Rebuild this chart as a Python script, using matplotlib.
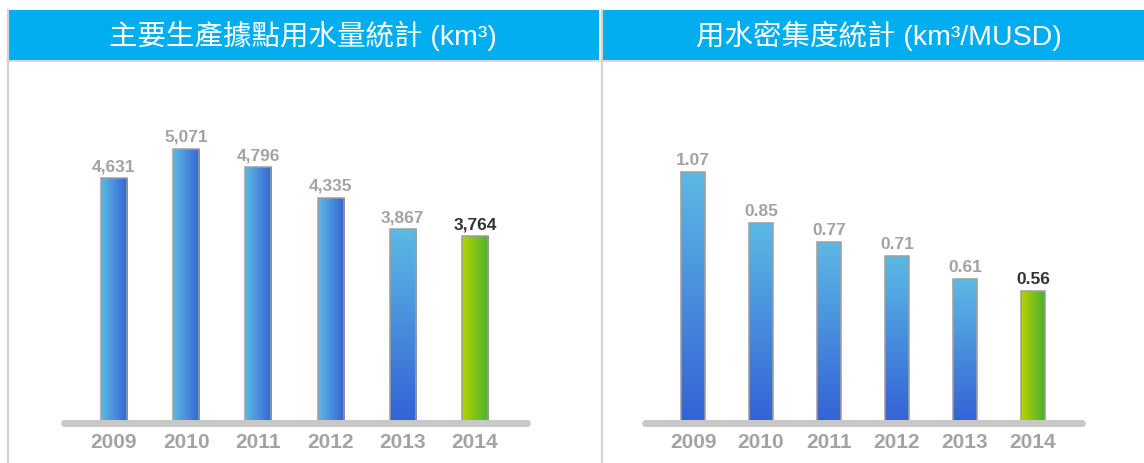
import numpy as np
import matplotlib.pyplot as plt
from matplotlib.colors import LinearSegmentedColormap
from matplotlib.patches import Rectangle

# data
years = ['2009', '2010', '2011', '2012', '2013', '2014']
water_use = [4631, 5071, 4796, 4335, 3867, 3764]          # km3
water_intensity = [1.07, 0.85, 0.77, 0.71, 0.61, 0.56]    # km3/MUSD
water_use_labels = ['4,631', '5,071', '4,796', '4,335', '3,867', '3,764']
intensity_labels = ['1.07', '0.85', '0.77', '0.71', '0.61', '0.56']
title_left = '主要生產據點用水量統計 (km³)'
title_right = '用水密集度統計 (km³/MUSD)'

W, H = 1144, 463
HEADER = '#00AEEF'
BORDER = '#D2D2D2'
GREY_TXT = '#A3A3A3'
blue_cm = LinearSegmentedColormap.from_list('b', ['#5CB9E4', '#3463D6'])
green_cm = LinearSegmentedColormap.from_list('g', ['#B6D400', '#4BB031'])
FONT = ['Liberation Sans', 'Noto Sans CJK TC']

fig = plt.figure(figsize=(W / 100, H / 100), dpi=100)

# background layer in pixel coordinates
bg = fig.add_axes([0, 0, 1, 1])
bg.set_xlim(0, W)
bg.set_ylim(H, 0)
bg.axis('off')
for x0, x1, title, dx in [(7, 599, title_left, 0), (601, W, title_right, 6)]:
    bg.add_patch(Rectangle((x0, 10), x1 - x0, 50, color=HEADER, lw=0))
    bg.plot([x0 + 0.5, x0 + 0.5], [10, H], color=BORDER, lw=1.6)
    bg.plot([x0, x1], [60.5, 60.5], color=BORDER, lw=1.2)
    bg.text((x0 + x1) / 2 + dx, 36, title, color='white',
            fontsize=20.5, ha='center', va='center', family=FONT)


def px_axes(left, right, bottom, top):
    return fig.add_axes([left / W, (H - bottom) / H, (right - left) / W, (bottom - top) / H])


def draw_panel(ax, values, labels, ylim, xlim, width, styles):
    ax.set_xlim(*xlim)
    ax.set_ylim(*ylim)
    bars = ax.bar(range(len(values)), values, width=width, facecolor='none',
                  edgecolor='#9E9E9E', linewidth=1.1, zorder=3)
    for i, (b, st) in enumerate(zip(bars, styles)):
        x0, w = b.get_x(), b.get_width()
        y0, y1 = max(b.get_y(), ylim[0]), b.get_height()
        if st == 'h':
            grad, cm = np.linspace(0, 1, 64).reshape(1, -1), blue_cm
        elif st == 'v':
            grad, cm = np.linspace(0, 1, 64).reshape(-1, 1), blue_cm
        else:
            grad, cm = np.linspace(0, 1, 64).reshape(1, -1), green_cm
        # row 0 (light) goes to the top of the bar
        im = ax.imshow(grad, cmap=cm, extent=(x0, x0 + w, y0, y1), aspect='auto',
                       origin='upper', zorder=2, interpolation='bicubic')
        im.set_clip_path(b)
        last = i == len(values) - 1
        ax.annotate(labels[i], (i, values[i]), xytext=(0, 5), textcoords='offset points',
                    ha='center', va='baseline', fontsize=12.5, fontweight='bold',
                    color='#333333' if last else GREY_TXT, family=FONT)
    ax.set_xlim(*xlim)
    ax.set_ylim(*ylim)
    ax.plot([0, 1], [-0.006, -0.006], transform=ax.transAxes, color='#C8C8C8', lw=5,
            solid_capstyle='round', clip_on=False, zorder=5)
    ax.set_xticks(range(len(years)))
    ax.set_xticklabels(years, fontsize=15, fontweight='bold', color=GREY_TXT, family=FONT)
    ax.tick_params(length=0, pad=9)
    ax.set_yticks([])
    for s in ax.spines.values():
        s.set_visible(False)
    ax.patch.set_alpha(0)


ax1 = px_axes(64, 527, 421, 100)
draw_panel(ax1, water_use, water_use_labels, (1000, 1000 + 321 / 0.0669),
           (-0.69, 5.72), 0.36, ['h', 'h', 'h', 'h', 'v', 'g'])

ax2 = px_axes(645, 1082, 421, 100)
draw_panel(ax2, water_intensity, intensity_labels, (0, 321 / 232.7),
           (-0.706, 5.72), 0.35, ['v', 'v', 'v', 'v', 'v', 'g'])

fig.savefig('out.png', dpi=100)
